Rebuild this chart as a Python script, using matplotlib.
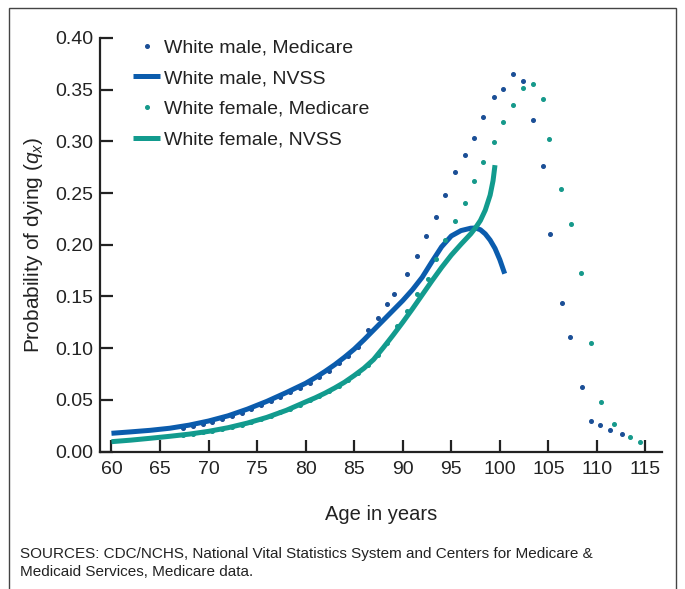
import matplotlib
matplotlib.use("Agg")
import matplotlib.pyplot as plt
from matplotlib.patches import Rectangle

plt.rcParams['font.family'] = ['Liberation Sans', 'DejaVu Sans']
plt.rcParams['mathtext.fontset'] = 'custom'
plt.rcParams['mathtext.rm'] = 'Liberation Sans'
plt.rcParams['mathtext.it'] = 'Liberation Sans:italic'

# NVSS life-table curves
male_nvss_age = [60, 62, 64, 66, 68, 70, 72, 74, 76, 78, 80, 81, 82, 83, 84, 85, 86,
                 87, 88, 89, 90, 91, 92, 93, 94, 95, 96, 97, 97.5, 98, 98.5, 99,
                 99.5, 100, 100.5]
male_nvss_q = [0.0176, 0.019, 0.0205, 0.0225, 0.0255, 0.0295, 0.0345, 0.041, 0.0485,
               0.057, 0.066, 0.0715, 0.0775, 0.084, 0.0912, 0.099, 0.108, 0.1175,
               0.127, 0.1365, 0.146, 0.1565, 0.1685, 0.1835, 0.198, 0.2085, 0.2137,
               0.216, 0.2162, 0.2145, 0.2105, 0.2045, 0.1965, 0.1855, 0.172]

female_nvss_age = [60, 62, 64, 66, 68, 70, 72, 74, 76, 78, 80, 81, 82, 83, 84, 85, 86,
                   87, 88, 89, 90, 91, 92, 93, 94, 95, 96, 97, 97.5, 98, 98.5, 99,
                   99.3, 99.5]
female_nvss_q = [0.0095, 0.011, 0.0128, 0.0147, 0.0168, 0.0195, 0.023, 0.0275, 0.033,
                 0.0398, 0.048, 0.052, 0.0565, 0.0615, 0.067, 0.0735, 0.0805, 0.089,
                 0.1005, 0.1125, 0.125, 0.138, 0.1515, 0.165, 0.178, 0.19, 0.2005,
                 0.2105, 0.2165, 0.2235, 0.2335, 0.248, 0.262, 0.277]

# Medicare dots
male_med_age = [67.4, 68.4, 69.4, 70.4, 71.4, 72.4, 73.4, 74.4, 75.4, 76.4, 77.4,
                78.4, 79.4, 80.4, 81.4, 82.4, 83.4, 84.4, 85.4, 86.45, 87.45, 88.4,
                89.05, 90.43, 91.43, 92.42, 93.39, 94.35, 95.38, 96.41, 97.34, 98.26,
                99.39, 100.32, 101.35, 102.38, 103.41, 104.44, 105.16, 106.36, 107.2,
                108.45, 109.35, 110.35, 111.3, 112.55]
male_med_q = [0.0231, 0.0248, 0.0268, 0.029, 0.0315, 0.0343, 0.0375, 0.041, 0.0447,
              0.0487, 0.0529, 0.0573, 0.0618, 0.0667, 0.0722, 0.0783, 0.0852, 0.0928,
              0.1013, 0.1175, 0.129, 0.1425, 0.152, 0.1715, 0.1895, 0.2084, 0.2265,
              0.248, 0.270, 0.2868, 0.3032, 0.3235, 0.3428, 0.3506, 0.3651, 0.3583,
              0.3206, 0.2761, 0.2103, 0.1433, 0.1104, 0.0624, 0.0295, 0.0259, 0.0208,
              0.0169]

female_med_age = [67.4, 68.4, 69.4, 70.4, 71.4, 72.4, 73.4, 74.4, 75.4, 76.4, 77.4,
                  78.4, 79.4, 80.4, 81.4, 82.4, 83.4, 84.4, 85.4, 86.4, 87.4, 88.4,
                  89.43, 90.47, 91.46, 92.6, 93.45, 94.38, 95.38, 96.37, 97.34, 98.3,
                  99.4, 100.3, 101.35, 102.38, 103.41, 104.44, 105.1, 106.3, 107.35,
                  108.4, 109.4, 110.45, 111.8, 113.45, 114.45]
female_med_q = [0.0163, 0.0173, 0.0187, 0.0202, 0.0219, 0.0239, 0.0261, 0.0286,
                0.0313, 0.0343, 0.0378, 0.0414, 0.0448, 0.0496, 0.0538, 0.0585, 0.0637,
                0.0694, 0.0763, 0.0839, 0.0935, 0.1052, 0.1214, 0.1359, 0.152, 0.1668,
                0.186, 0.2045, 0.2229, 0.2403, 0.2616, 0.280, 0.2993, 0.3187, 0.335,
                0.3516, 0.3554, 0.3409, 0.3022, 0.2539, 0.2203, 0.1726, 0.1046, 0.0479,
                0.0266, 0.0143, 0.0095]

x_ticks = list(range(60, 116, 5))
y_ticks = [0.00, 0.05, 0.10, 0.15, 0.20, 0.25, 0.30, 0.35, 0.40]

blue = '#0b5cad'
teal = '#129b8e'
blue_dot = '#1b4f96'
teal_dot = '#16998b'
ink = '#222222'

fig = plt.figure(figsize=(6.85, 5.89), dpi=100)
ax = fig.add_axes([100 / 685, 1 - 451.5 / 589, 562 / 685, 413.5 / 589])

ax.plot(male_med_age, male_med_q, linestyle='none', marker='o', markersize=2.6,
        color=blue_dot, label='White male, Medicare')
ax.plot(male_nvss_age, male_nvss_q, color=blue, linewidth=3.6,
        solid_capstyle='butt', solid_joinstyle='round', label='White male, NVSS')
ax.plot(female_med_age, female_med_q, linestyle='none', marker='o', markersize=2.6,
        color=teal_dot, label='White female, Medicare')
ax.plot(female_nvss_age, female_nvss_q, color=teal, linewidth=3.6,
        solid_capstyle='butt', solid_joinstyle='round', label='White female, NVSS')

ax.set_xlim(58.82, 116.7)
ax.set_ylim(0, 0.40)
ax.set_xticks(x_ticks)
ax.set_yticks(y_ticks)
ax.set_yticklabels([f'{v:.2f}' for v in y_ticks])
ax.spines['top'].set_visible(False)
ax.spines['right'].set_visible(False)
for s in ('left', 'bottom'):
    ax.spines[s].set_linewidth(1.6)
    ax.spines[s].set_color(ink)
ax.tick_params(direction='in', length=9, width=1.6, color=ink,
               labelsize=14, labelcolor=ink)
ax.tick_params(axis='x', pad=7)
ax.tick_params(axis='y', pad=5)

ax.set_xlabel('Age in years', fontsize=14.5, color=ink, labelpad=19)
ax.set_ylabel(r'Probability of dying ($q_x$)', fontsize=15, color=ink, labelpad=7)

leg = ax.legend(loc='upper left', bbox_to_anchor=(0.028, 1.04), frameon=False,
                fontsize=14, handlelength=1.4, handletextpad=0.2, labelspacing=0.67)
for t in leg.get_texts():
    t.set_color(ink)

fig.text(20 / 685, 1 - 563 / 589,
         'SOURCES: CDC/NCHS, National Vital Statistics System and Centers for Medicare &\n'
         'Medicaid Services, Medicare data.',
         fontsize=11, color=ink, va='center', ha='left', linespacing=1.3)

fig.patches.append(Rectangle((9 / 685, -0.02), 667 / 685, 1.02 - 8 / 589,
                             transform=fig.transFigure, fill=False,
                             edgecolor='#444444', linewidth=1.0))

fig.savefig('out.png', dpi=100)
